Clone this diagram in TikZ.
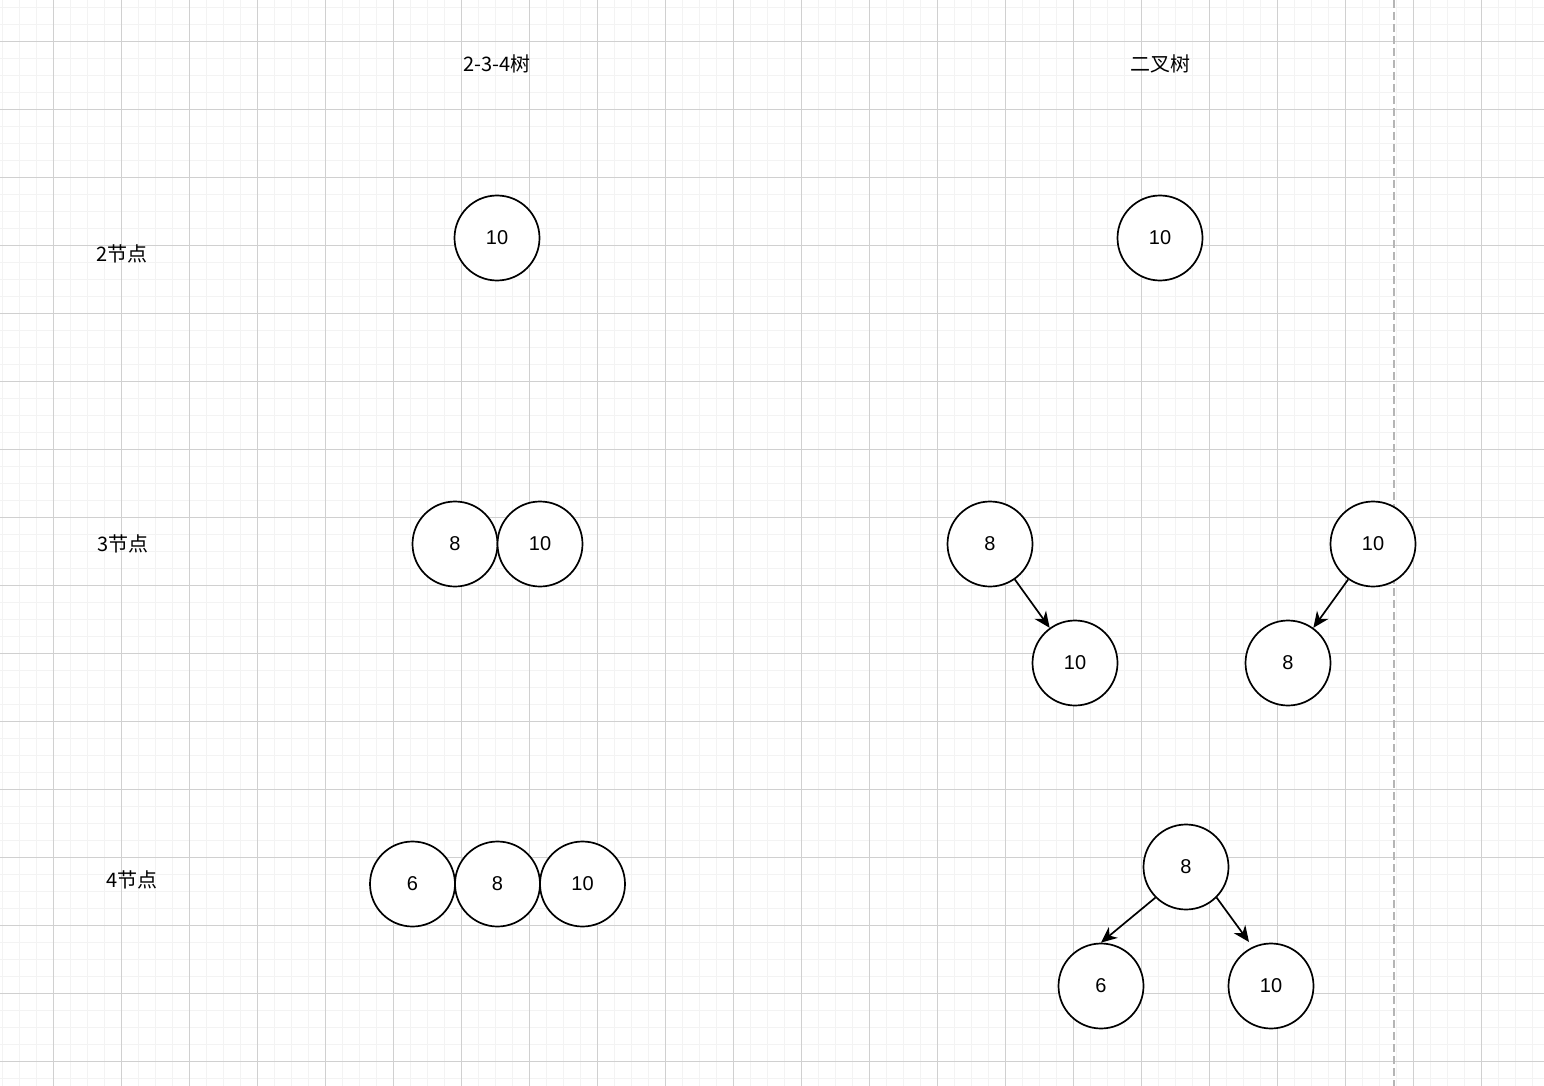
\documentclass[tikz,border=0pt]{standalone}
\usepackage{fontspec}
\setmainfont{Liberation Sans}
\newfontfamily\cjk{Noto Sans CJK SC}
\usepackage{xcolor}
\usetikzlibrary{arrows.meta,calc}

\definecolor{gridminor}{HTML}{F3F3F3}
\definecolor{gridmajor}{HTML}{D0D0D0}
\definecolor{pageline}{HTML}{B5B5B5}

\tikzset{
  key/.style={circle,draw=black,line width=1.7pt,fill=white,
    minimum size=85pt,inner sep=0pt,font=\fontsize{20}{24}\selectfont},
  caption/.style={font=\fontsize{20}{24}\selectfont\cjk,inner sep=0pt},
  link/.style={draw=black,line width=1.7pt,
    -{Stealth[length=16pt,width=14pt,inset=5pt]}}
}

\begin{document}
\begin{tikzpicture}[x=1pt,y=-1pt]
            \useasboundingbox (0,0) rectangle (1544,1086);
            \fill[white] (0,0) rectangle (1544,1086);
            % grid
            \foreach \gx in {0,...,90}
              \path[draw=gridminor,line width=1pt] (2.3+17*\gx,0) -- (2.3+17*\gx,1086);
            \foreach \gy in {0,...,63}
              \path[draw=gridminor,line width=1pt] (0,7.3+17*\gy) -- (1544,7.3+17*\gy);
            \foreach \gx in {0,...,22}
              \path[draw=gridmajor,line width=1pt] (53.3+68*\gx,0) -- (53.3+68*\gx,1086);
            \foreach \gy in {0,...,15}
              \path[draw=gridmajor,line width=1pt] (0,41.3+68*\gy) -- (1544,41.3+68*\gy);
            % page border
            \path[draw=pageline,line width=1.7pt,dash pattern=on 8pt off 4pt] (1394.3,0) -- (1394.3,1086);

            % headings and row labels
            \node[caption] (head234) at (497,64) {2-3-4树};
            \node[caption] (headbin) at (1160,64) {二叉树};
            \node[caption] (row2) at (122,254) {2节点};
            \node[caption] (row3) at (123,544) {3节点};
            \node[caption] (row4) at (132,880) {4节点};

            % 2-node
            \node[key] (a10) at (497,238) {10};
            \node[key] (b10) at (1160,238) {10};

            % 3-node
            \node[key] (c8) at (455,544) {8};
            \node[key] (c10) at (540,544) {10};
            \node[key] (d8) at (990,544) {8};
            \node[key] (d10) at (1075,663) {10};
            \node[key] (e10) at (1373,544) {10};
            \node[key] (e8) at (1288,663) {8};
            \path[link] (d8.-55) -- (d10);
            \path[link] (e10.-125) -- (e8);

            % 4-node
            \node[key] (f6) at (412.5,884) {6};
            \node[key] (f8) at (497.5,884) {8};
            \node[key] (f10) at (582.5,884) {10};
            \node[key] (g8) at (1186,867) {8};
            \node[key] (g6) at (1101,986) {6};
            \node[key] (g10) at (1271,986) {10};
            \coordinate (g10top) at ($(g10)+(-22,-44)$);
            \path[link] (g8.south west) -- (g6.north);
            \path[link] (g8.south east) -- (g10top);
\end{tikzpicture}
\end{document}
